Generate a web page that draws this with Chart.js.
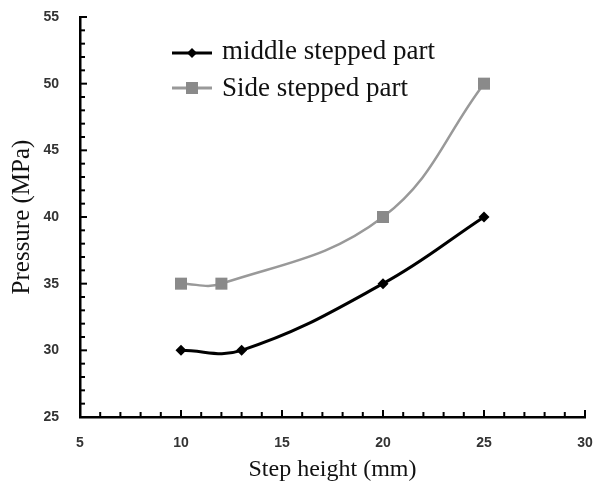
<!DOCTYPE html>
<html>
<head>
<meta charset="utf-8">
<script src="https://cdn.jsdelivr.net/npm/chart.js@4/dist/chart.umd.min.js"></script>
<style>
  html, body { margin: 0; padding: 0; background: #fff; }
  #wrap { width: 597px; height: 488px; }
</style>
</head>
<body>
<div id="wrap"><canvas id="myChart"></canvas></div>
<script>
const middleLabel = 'middle stepped part';
const sideLabel = 'Side stepped part';
const middleX = [10, 13, 20, 25];
const middleY = [30, 30, 35, 40];
const sideX = [10, 12, 20, 25];
const sideY = [35, 35, 40, 50];
const xTicks = [5, 10, 15, 20, 25, 30];
const yTicks = [25, 30, 35, 40, 45, 50, 55];

const toPoints = (xs, ys) => xs.map((x, i) => ({ x: x, y: ys[i] }));

// inward minor/major tick marks, like the original plot
const innerTicks = {
  id: 'innerTicks',
  afterDraw(chart) {
    const { ctx, scales: { x, y } } = chart;
    const left = x.getPixelForValue(xTicks[0]);
    const bottom = y.getPixelForValue(yTicks[0]);
    ctx.save();
    ctx.strokeStyle = '#000';
    ctx.lineWidth = 2;
    for (let v = yTicks[0]; v <= yTicks[yTicks.length - 1]; v++) {
      const py = y.getPixelForValue(v);
      const len = v % 5 === 0 ? 7 : 5;
      ctx.beginPath();
      ctx.moveTo(left, py);
      ctx.lineTo(left + len, py);
      ctx.stroke();
    }
    for (let v = xTicks[0]; v <= xTicks[xTicks.length - 1]; v++) {
      const px = x.getPixelForValue(v);
      const len = v % 5 === 0 ? 7 : 5;
      ctx.beginPath();
      ctx.moveTo(px, bottom);
      ctx.lineTo(px, bottom - len);
      ctx.stroke();
    }
    ctx.restore();
  }
};

// legend with a line + marker sample, placed inside the plot
const lineLegend = {
  id: 'lineLegend',
  afterDraw(chart) {
    const { ctx } = chart;
    const rows = [
      { text: middleLabel, color: '#000', line: '#000', shape: 'diamond', y: 53, base: 59 },
      { text: sideLabel, color: '#8a8a8a', line: '#999', shape: 'square', y: 88, base: 96 }
    ];
    ctx.save();
    rows.forEach(r => {
      ctx.strokeStyle = r.line;
      ctx.lineWidth = 3;
      ctx.beginPath();
      ctx.moveTo(172, r.y);
      ctx.lineTo(212, r.y);
      ctx.stroke();
      ctx.fillStyle = r.color;
      ctx.beginPath();
      if (r.shape === 'diamond') {
        ctx.moveTo(192, r.y - 5);
        ctx.lineTo(197, r.y);
        ctx.lineTo(192, r.y + 5);
        ctx.lineTo(187, r.y);
        ctx.closePath();
      } else {
        ctx.rect(186, r.y - 6, 12, 12);
      }
      ctx.fill();
      ctx.fillStyle = '#111';
      ctx.font = '27px "Liberation Serif", "Times New Roman", serif';
      ctx.textBaseline = 'alphabetic';
      ctx.fillText(r.text, 222, r.base);
    });
    ctx.restore();
  }
};

const data = {
  datasets: [
    {
      label: middleLabel,
      data: toPoints(middleX, middleY),
      borderColor: '#000',
      backgroundColor: '#000',
      borderWidth: 3,
      pointStyle: 'rectRot',
      pointRadius: 5.5,
      pointBorderWidth: 0,
      tension: 0.4
    },
    {
      label: sideLabel,
      data: toPoints(sideX, sideY),
      borderColor: '#999',
      backgroundColor: '#8a8a8a',
      borderWidth: 2.5,
      pointStyle: 'rect',
      pointRadius: 8.5,
      pointBorderWidth: 0,
      tension: 0.4
    }
  ]
};

const tickFont = { family: '"Liberation Sans", Arial, sans-serif', size: 14, weight: 'bold' };
const titleFont = { family: '"Liberation Serif", "Times New Roman", serif', size: 24 };

const config = {
  type: 'line',
  data: data,
  options: {
    responsive: false,
    animation: false,
    layout: { padding: { left: 0, right: 12, top: 17, bottom: 0 } },
    plugins: {
      legend: { display: false },
      tooltip: { enabled: false }
    },
    scales: {
      x: {
        type: 'linear',
        min: xTicks[0],
        max: xTicks[xTicks.length - 1],
        grid: { display: false, drawTicks: false },
        border: { display: true, color: '#000', width: 2.5 },
        ticks: { stepSize: 5, padding: 18, color: '#333', font: tickFont },
        afterFit(scale) {
          scale.height = 71;
          scale.paddingLeft = 0;
          scale.paddingRight = 0;
        },
        title: {
          display: true,
          text: 'Step height (mm)',
          color: '#111',
          font: titleFont,
          padding: { top: 0, bottom: 4 }
        }
      },
      y: {
        min: yTicks[0],
        max: yTicks[yTicks.length - 1],
        grid: { display: false, drawTicks: false },
        border: { display: true, color: '#000', width: 2.5 },
        ticks: { stepSize: 5, padding: 21, color: '#333', font: tickFont },
        afterFit(scale) {
          scale.width = 80;
          scale.paddingTop = 0;
          scale.paddingBottom = 0;
        },
        title: {
          display: true,
          text: 'Pressure (MPa)',
          color: '#111',
          font: { family: titleFont.family, size: 25 },
          padding: { top: 7, bottom: 0 }
        }
      }
    }
  },
  plugins: [innerTicks, lineLegend]
};

const canvas = document.getElementById('myChart');
canvas.width = 597;
canvas.height = 488;
const myChart = new Chart(canvas, config);
</script>
</body>
</html>
